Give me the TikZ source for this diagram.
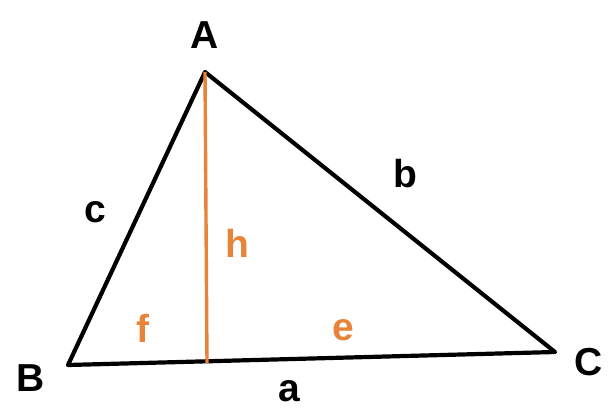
\documentclass[tikz,border=0pt]{standalone}
\usepackage{fontspec}
\setmainfont{Liberation Sans}
\usepackage{tikz}
\usetikzlibrary{positioning,calc}
\definecolor{altorange}{RGB}{232,131,58}

\begin{document}
\begin{tikzpicture}[
    x=1pt, y=-1pt,
    every node/.style={font=\fontsize{39}{39}\selectfont\bfseries, inner sep=0pt},
    side/.style={line width=4.2pt, line join=round, color=black},
    alt/.style={line width=3.4pt, color=altorange},
    lbl/.style={text=black},
    seg/.style={text=altorange}
]
\useasboundingbox (0,0) rectangle (608,412);

% Vertices
\coordinate (A) at (205,72);
\coordinate (B) at (68,365);
\coordinate (C) at (555,352);
\coordinate (H) at (207,363);

% Triangle and altitude
\draw[side] (B) -- (A) -- (C) -- cycle;
\draw[alt]  (A) -- (H);

% Vertex labels
\node[lbl] (lA) at (205,35)  {A};
\node[lbl] (lB) at (31,378)  {B};
\node[lbl] (lC) at (589,362) {C};

% Side labels
\node[lbl] (la) at (289,391) {a};
\node[lbl] (lb) at (405,174) {b};
\node[lbl] (lc) at (95,212)  {c};

% Altitude and segments
\node[seg] (lh) at (237,243) {h};
\node[seg] (lf) at (143,328) {f};
\node[seg] (le) at (343,330) {e};

\end{tikzpicture}
\end{document}
